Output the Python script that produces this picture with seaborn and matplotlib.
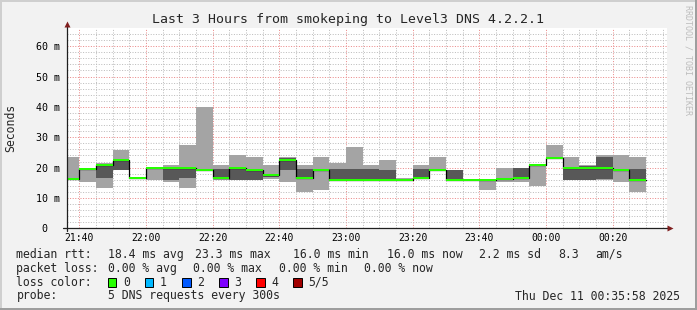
import matplotlib
matplotlib.use("Agg")
import matplotlib.pyplot as plt
from matplotlib.patches import Rectangle
import numpy as np
import pandas as pd
import seaborn as sns

# ------------------------------------------------------------------ data
step_starts = ["21:35", "21:40", "21:45", "21:50", "21:55", "22:00", "22:05",
               "22:10", "22:15", "22:20", "22:25", "22:30", "22:35", "22:40",
               "22:45", "22:50", "22:55", "23:00", "23:05", "23:10", "23:15",
               "23:20", "23:25", "23:30", "23:35", "23:40", "23:45", "23:50",
               "23:55", "00:00", "00:05", "00:10", "00:15", "00:20", "00:25"]
step_end = "00:30"

ping_min = [16.0, 15.3, 13.4, 19.1, 16.3, 16.0, 15.3, 13.4, 19.0, 16.0,
            15.8, 15.8, 16.2, 15.3, 12.0, 12.6, 15.8, 15.8, 15.8, 15.8,
            15.8, 16.3, 19.0, 15.8, 15.8, 12.6, 15.3, 15.3, 13.9, 22.9,
            15.8, 15.8, 15.9, 15.3, 12.0]
ping_2nd = [16.3, 19.5, 16.6, 19.3, 16.4, 19.6, 15.9, 16.6, 19.1, 16.2,
            15.9, 15.9, 17.0, 19.2, 16.3, 19.0, 15.9, 15.9, 15.9, 15.9,
            15.9, 16.4, 19.1, 15.9, 15.9, 15.6, 15.9, 16.4, 20.6, 23.0,
            15.9, 15.9, 16.4, 19.0, 15.9]
median_rtt = [16.4, 19.7, 20.8, 22.5, 16.5, 19.8, 19.8, 19.8, 19.2, 16.5,
              19.8, 19.1, 17.4, 22.5, 16.5, 19.2, 16.0, 16.0, 16.0, 16.0,
              16.0, 16.6, 19.2, 16.0, 16.0, 16.0, 16.1, 16.6, 20.9, 23.3,
              19.8, 19.8, 19.8, 19.2, 16.0]
ping_4th = [16.5, 19.8, 21.0, 22.8, 16.6, 19.9, 20.2, 20.2, 19.4, 19.7,
            20.1, 19.6, 17.7, 23.3, 19.7, 19.4, 19.7, 19.7, 19.7, 19.2,
            16.4, 19.7, 19.4, 19.1, 16.1, 16.2, 16.4, 19.8, 21.1, 23.6,
            20.1, 20.6, 23.5, 19.4, 19.7]
ping_max = [23.5, 20.0, 21.4, 25.7, 16.7, 20.0, 20.8, 27.4, 40.0, 20.8,
            24.1, 23.4, 20.8, 23.4, 20.8, 23.5, 21.4, 26.8, 20.8, 22.5,
            16.5, 20.8, 23.5, 19.2, 16.2, 16.4, 19.9, 19.9, 21.3, 27.4,
            23.5, 20.8, 24.1, 24.1, 23.5]

x_tick_labels = ["21:40", "22:00", "22:20", "22:40", "23:00", "23:20",
                 "23:40", "00:00", "00:20"]
y_tick_values = [0, 10, 20, 30, 40, 50, 60]
y_tick_labels = ["0  ", "10 m", "20 m", "30 m", "40 m", "50 m", "60 m"]

title = "Last 3 Hours from smokeping to Level3 DNS 4.2.2.1"
y_label = "Seconds"
credit = "RRDTOOL / TOBI OETIKER"
rtt_label = "median rtt:"
rtt_stats = ["18.4 ms avg", "23.3 ms max", "16.0 ms min", "16.0 ms now",
             "2.2 ms sd", "8.3", "am/s"]
loss_label = "packet loss:"
loss_stats = ["0.00 % avg", "0.00 % max", "0.00 % min", "0.00 % now"]
color_label = "loss color:"
loss_names = ["0", "1", "2", "3", "4", "5/5"]
loss_colors = ["#26ff00", "#00b8ff", "#0059ff", "#7e00ff", "#ff0000", "#a10000"]
probe_label = "probe:"
probe_text = "5 DNS requests every 300s"
stamp_text = "Thu Dec 11 00:35:58 2025"
window_start = "21:36:13"


def to_minutes(s):
    parts = [int(p) for p in s.split(":")]
    h, m = parts[0], parts[1]
    sec = parts[2] if len(parts) > 2 else 0
    if h < 12:
        h += 24
    return (h - 21) * 60 + m + sec / 60.0


# ------------------------------------------------------------------ style
sns.set_theme(style="white")
plt.rcParams["font.family"] = ["DejaVu Sans Mono", "DejaVu Sans"]

W, H = 697, 310
BACK = "#f2f2f2"
fig = plt.figure(figsize=(W / 100, H / 100), dpi=100, facecolor=BACK)

ax_l, ax_r, ax_t, ax_b = 66.7, 666.7, 28.3, 228.3
ax = fig.add_axes([ax_l / W, 1 - ax_b / H, (ax_r - ax_l) / W, (ax_b - ax_t) / H])
ax.set_facecolor("white")

x0 = to_minutes(window_start)
ax.set_xlim(x0, x0 + 180)
ax.set_ylim(0, 65.9)

# step data
xs = [to_minutes(s) for s in step_starts] + [to_minutes(step_end)]
def ext(a):
    return list(a) + [a[-1]]

df = pd.DataFrame({"t": xs, "p1": ext(ping_min), "p2": ext(ping_2nd),
                   "med": ext(median_rtt), "p4": ext(ping_4th),
                   "p5": ext(ping_max)})

ax.fill_between(df["t"], df["p1"], df["p5"], step="post", color="#a4a4a4",
                lw=0, zorder=1)
ax.fill_between(df["t"], df["p2"], df["p4"], step="post", color="#585858",
                lw=0, zorder=1.1)
sns.lineplot(data=df, x="t", y="med", drawstyle="steps-post", color="#000000",
             lw=0.9, estimator=None, sort=False, ax=ax, zorder=1.2)
sw = 0.33
ax.fill_between(df["t"], df["med"] - sw, df["med"] + sw, step="post",
                color=loss_colors[0], lw=0, zorder=1.3)

# ticks & grid
major_x = [to_minutes(s) for s in x_tick_labels]
ax.set_xticks(major_x, x_tick_labels)
ax.set_xticks(np.arange(major_x[0], x0 + 180, 5), minor=True)
ax.set_yticks(y_tick_values, y_tick_labels)
ax.set_yticks(np.arange(0, 66, 2), minor=True)
ax.set_axisbelow(True)
dot = (0, (1, 1.6))
ax.grid(which="minor", color="#bdbdbd", lw=0.72, linestyle=dot)
ax.grid(which="major", color="#ea8a8a", lw=0.72, linestyle=dot)
ax.tick_params(axis="x", which="major", length=2, width=0.72, color="#1f1f1f",
               pad=1.2, labelsize=7, labelcolor="black")
ax.tick_params(axis="x", which="minor", length=1.5, width=0.72, color="#8f8f8f")
ax.tick_params(axis="y", which="both", length=0, pad=4.8, labelsize=7.2,
               labelcolor="black")
ax.set_xlabel("")
ax.set_ylabel("")
for sp in ax.spines.values():
    sp.set_visible(False)

# axis lines with arrows
ax.plot([-0.0057, 1.002], [0, 0], transform=ax.transAxes, color="#1f1f1f",
        lw=0.9, clip_on=False, zorder=6)
ax.plot([0, 0], [-0.012, 1.015], transform=ax.transAxes, color="#1f1f1f",
        lw=0.9, clip_on=False, zorder=6)
ax.plot([1.0063], [0], marker=">", ms=5, color="#801f1f", transform=ax.transAxes,
        clip_on=False, zorder=7, mec="none")
ax.plot([0], [1.0215], marker="^", ms=5, color="#801f1f", transform=ax.transAxes,
        clip_on=False, zorder=7, mec="none")

# texts
def fx(px):
    return px / W

def fy(py):
    return 1 - py / H

fig.text(fx(348), fy(19), title, ha="center", va="center", fontsize=9.5)
fig.text(fx(10.8), fy(127.5), y_label, rotation=90, ha="center", va="center",
         fontsize=8.3)
fig.text(fx(687.7), fy(60), credit, rotation=270, ha="center", va="center",
         fontsize=6, color="#bdbdbd")

LF = 8.3
row_y = [254.3, 268.3, 282.3, 296.0]
fig.text(fx(16.4), fy(row_y[0]), rtt_label, va="center", fontsize=LF)
for s, px in zip(rtt_stats, [107.6, 194.7, 293.3, 386.7, 479.0, 557.8, 595.6]):
    fig.text(fx(px), fy(row_y[0]), s, va="center", fontsize=LF)
fig.text(fx(16.4), fy(row_y[1]), loss_label, va="center", fontsize=LF)
for s, px in zip(loss_stats, [107.6, 193.3, 279.0, 364.4]):
    fig.text(fx(px), fy(row_y[1]), s, va="center", fontsize=LF)
fig.text(fx(16.4), fy(row_y[2]), color_label, va="center", fontsize=LF)
for i, (name, col) in enumerate(zip(loss_names, loss_colors)):
    bx = 108.0 + i * 37.06
    fig.patches.append(Rectangle((fx(bx), fy(row_y[2] + 4.3)), 8.4 / W, 8.6 / H,
                                 transform=fig.transFigure, facecolor=col,
                                 edgecolor="black", lw=0.7))
    fig.text(fx(bx + 15), fy(row_y[2]), name, va="center", fontsize=LF)
fig.text(fx(16.4), fy(row_y[3]), probe_label, va="center", fontsize=LF)
fig.text(fx(107.6), fy(row_y[3]), probe_text, va="center", fontsize=LF)
fig.text(fx(680), fy(row_y[3]), stamp_text, ha="right", va="center", fontsize=LF)

# 3D-ish frame
fig.patches.append(Rectangle((0, 1 - 2 / H), 1, 2 / H, transform=fig.transFigure,
                             facecolor="#cfcfcf", lw=0))
fig.patches.append(Rectangle((0, 0), 2 / W, 1, transform=fig.transFigure,
                             facecolor="#cfcfcf", lw=0))
fig.patches.append(Rectangle((0, 0), 1, 2 / H, transform=fig.transFigure,
                             facecolor="#9e9e9e", lw=0))
fig.patches.append(Rectangle((1 - 2 / W, 0), 2 / W, 1, transform=fig.transFigure,
                             facecolor="#9e9e9e", lw=0))

fig.savefig("out.png", dpi=100, facecolor=BACK)
